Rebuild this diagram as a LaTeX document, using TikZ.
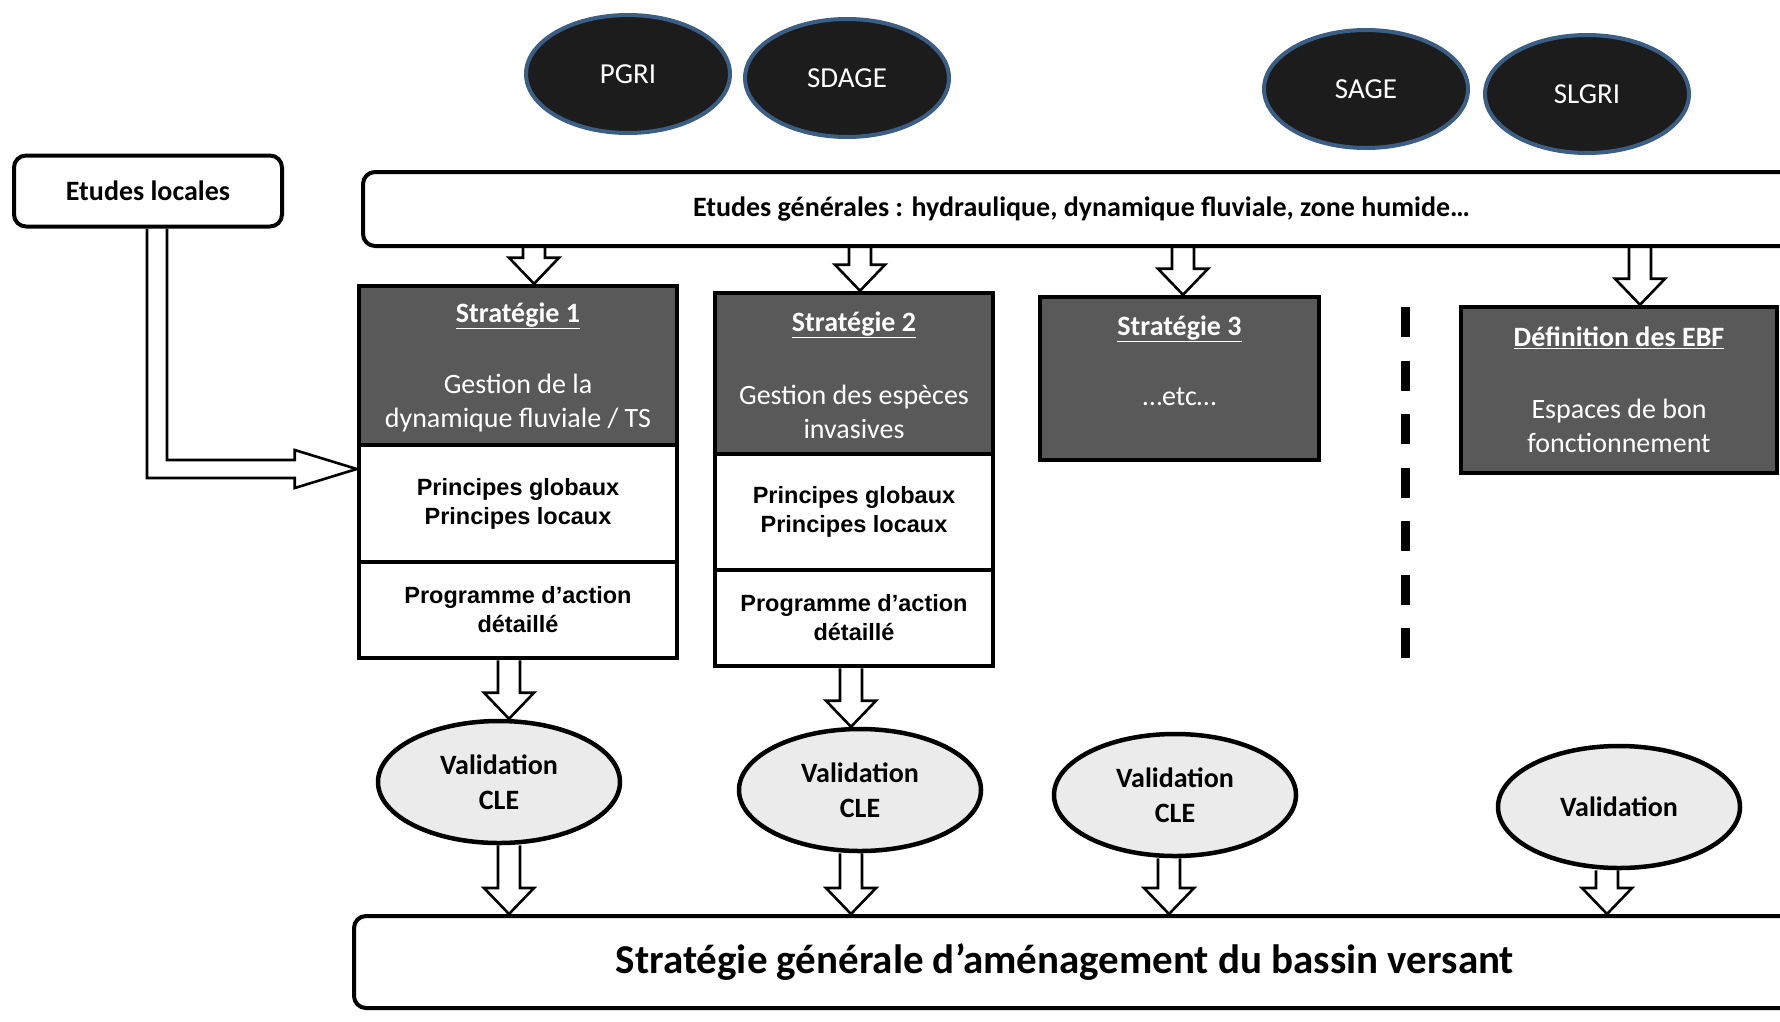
\documentclass[tikz,border=0pt]{standalone}
\usepackage{fontspec}
\setmainfont{Carlito}
\newfontfamily\arialf{Liberation Sans}
\usetikzlibrary{shapes.geometric,calc}
\pgfdeclarelayer{bg}
\pgfsetlayers{bg,main}
\definecolor{hdrgray}{HTML}{595959}
\definecolor{ovalblack}{HTML}{1C1C1C}
\definecolor{ovalblue}{HTML}{3B5E86}
\definecolor{valgray}{HTML}{EBEBEB}
\newcommand\vblk[3]{\draw[blk] let \p1=(#1,0 |- #2), \p2=(#1,0 |- #3) in
  (\x1-11pt,\y1) -- (\x1-11pt,\y2+26pt) -- (\x1-25pt,\y2+26pt) -- (\x1,\y2) --
  (\x1+25pt,\y2+26pt) -- (\x1+11pt,\y2+26pt) -- (\x1+11pt,\y1);}
\begin{document}
\begin{tikzpicture}[x=1pt,y=-1pt,
  darkoval/.style={ellipse, fill=ovalblack, draw=ovalblue, line width=4pt, minimum width=204pt, minimum height=118pt, inner sep=0pt, text=white, font=\fontsize{29}{34}\selectfont},
  valoval/.style={ellipse, fill=valgray, draw=black, line width=4.5pt, minimum width=242pt, minimum height=122pt, inner sep=0pt, align=center, font=\bfseries\fontsize{28}{35}\selectfont},
  roundbox/.style={draw=black, line width=4pt, rounded corners=12pt, fill=white, inner sep=0pt},
  hdrbox/.style={draw=black, line width=4.5pt, fill=hdrgray, inner sep=0pt},
  cellbox/.style={draw=black, line width=4.5pt, fill=white, inner sep=0pt, align=center, font=\arialf\bfseries\fontsize{23.5}{29}\selectfont},
  hdrtitle/.style={text=white, font=\bfseries\fontsize{28}{32}\selectfont, inner sep=0pt},
  hdrbody/.style={text=white, align=center, font=\fontsize{28}{34}\selectfont, inner sep=0pt},
  blk/.style={draw=black, line width=2.6pt, fill=white, line join=miter},
]
\useasboundingbox (0,0) rectangle (1780,1021);
\clip (0,0) rectangle (1780,1021);

% top ovals
\node[darkoval] (pgri) at (628,74) {PGRI};
\node[darkoval] (sdage) at (847,78) {SDAGE};
\node[darkoval] (sage) at (1366,89) {SAGE};
\node[darkoval] (slgri) at (1587,94) {SLGRI};

% studies
\node[roundbox, minimum width=268pt, minimum height=71pt, font=\bfseries\fontsize{28}{32}\selectfont] (el) at (148,191) {Etudes locales};
\node[roundbox, minimum width=1437pt, minimum height=74pt, font=\bfseries\fontsize{28}{32}\selectfont] (eg) at (1081.5,209) {Etudes générales : hydraulique, dynamique fluviale, zone humide…};

% strategy 1
\node[hdrbox, minimum width=318pt, minimum height=159pt] (s1h) at (518,365.5) {};
\node[cellbox, minimum width=318pt, minimum height=117pt] (s1p) at (518,503.5) {Principes globaux\\Principes locaux};
\node[cellbox, minimum width=318pt, minimum height=96pt] (s1a) at (518,610) {Programme d’action\\détaillé};
\node[hdrtitle] (s1t) at (518,316) {\underline{Stratégie 1}};
\node[hdrbody] (s1b) at (518,403) {Gestion de la\\dynamique fluviale / TS};

% strategy 2
\node[hdrbox, minimum width=278pt, minimum height=161pt] (s2h) at (854,373.5) {};
\node[cellbox, minimum width=278pt, minimum height=116pt] (s2p) at (854,512) {Principes globaux\\Principes locaux};
\node[cellbox, minimum width=278pt, minimum height=96pt] (s2a) at (854,618) {Programme d’action\\détaillé};
\node[hdrtitle] (s2t) at (854,325) {\underline{Stratégie 2}};
\node[hdrbody] (s2b) at (854,411.5) {Gestion des espèces\\invasives};

% strategy 3
\node[hdrbox, minimum width=279pt, minimum height=163pt] (s3h) at (1179.5,378.5) {};
\node[hdrtitle] (s3t) at (1179.5,329) {\underline{Stratégie 3}};
\node[hdrbody] (s3b) at (1179.5,397) {…etc…};

% EBF
\node[hdrbox, minimum width=316pt, minimum height=166pt] (ebf) at (1619,390) {};
\node[hdrtitle] (ebft) at (1619,338) {\underline{Définition des EBF}};
\node[hdrbody] (ebfb) at (1619,426) {Espaces de bon\\fonctionnement};

% separator
\draw[line width=9pt, dash pattern=on 30pt off 23.5pt] (1405,307) -- (1405,658);

% validations
\node[valoval] (v1) at (499,782) {Validation\\CLE};
\node[valoval] (v2) at (860,790) {Validation\\CLE};
\node[valoval] (v3) at (1175,795) {Validation\\CLE};
\node[valoval] (v4) at (1619,807) {Validation};

% general strategy
\node[roundbox, minimum width=1450pt, minimum height=92pt, font=\bfseries\fontsize{41}{46}\selectfont] (sg) at (1079,962) {\hspace*{-28pt}Stratégie générale d’aménagement du bassin versant};

\begin{pgfonlayer}{bg}
\vblk{534}{eg.south}{s1h.north}
\vblk{860}{eg.south}{s2h.north}
\vblk{1183}{eg.south}{s3h.north}
\vblk{1640}{eg.south}{ebf.north}
\vblk{509}{s1a.south}{v1.north}
\vblk{851}{s2a.south}{v2.north}
\vblk{509}{v1.south}{sg.north}
\vblk{851}{v2.south}{sg.north}
\vblk{1169}{v3.south}{sg.north}
\vblk{1607}{v4.south}{sg.north}
\draw[blk] let \p1=(157,0 |- el.south), \p2=(s1p.west |- 0,469) in
  (\x1-10pt,\y1) -- (\x1-10pt,\y2-9pt) -- (\x2-62pt,\y2-9pt) -- (\x2-62pt,\y2-19pt) --
  (\x2,\y2) -- (\x2-62pt,\y2+19pt) -- (\x2-62pt,\y2+9pt) -- (\x1+10pt,\y2+9pt) -- (\x1+10pt,\y1);
\end{pgfonlayer}
\end{tikzpicture}
\end{document}
